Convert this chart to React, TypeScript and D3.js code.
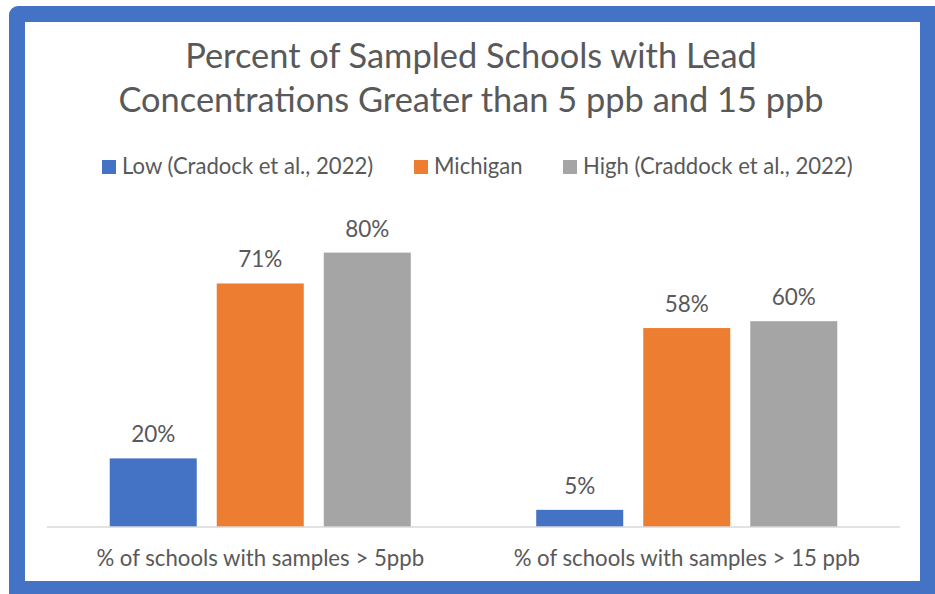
import React from "react";
import * as d3 from "d3";

const titleLines = ["Percent of Sampled Schools with Lead", "Concentrations Greater than 5 ppb and 15 ppb"];
const categories = ["% of schools with samples > 5ppb", "% of schools with samples > 15 ppb"];
const seriesNames = ["Low (Cradock et al., 2022)", "Michigan", "High (Craddock et al., 2022)"];
const lowValues = [0.2, 0.05];
const michiganValues = [0.71, 0.58];
const highValues = [0.8, 0.6];
const seriesColors = ["#4472C4", "#ED7D31", "#A5A5A5"];

const W = 935;
const H = 594;
const FONT = "Lato, 'Open Sans', sans-serif";
const TEXT = "#595959";

export default function App() {
  const seriesValues = [lowValues, michiganValues, highValues];
  const x0 = d3.scaleBand<string>().domain(categories).range([47, 900]).paddingInner(0).paddingOuter(0);
  const x1 = d3
    .scaleBand<string>()
    .domain(seriesNames)
    .range([0, x0.bandwidth()])
    .paddingInner(0.187)
    .paddingOuter(0.586);
  const y = d3.scaleLinear().domain([0, 1]).range([527, 184]);
  const fmt = d3.format(".0%");

  const legendX = [102, 414, 563];

  return (
    <svg width={W} height={H} style={{ position: "absolute", left: 0, top: 0, background: "#fff" }}>
      <rect x={9} y={6} width={960} height={620} rx={9} fill="#4472C4" />
      <rect x={25} y={22} width={895} height={559} fill="#fff" />
      {titleLines.map((t, i) => (
        <text key={i} x={471} y={68 + i * 44} textAnchor="middle" fontFamily={FONT} fontSize={34.4} fill={TEXT}>
          {t}
        </text>
      ))}
      {seriesNames.map((s, i) => (
        <g key={s}>
          <rect x={legendX[i]} y={160} width={14} height={14} fill={seriesColors[i]} />
          <text x={legendX[i] + 20} y={174} fontFamily={FONT} fontSize={22.1} fill={TEXT}>
            {s}
          </text>
        </g>
      ))}
      {categories.map((c, ci) => (
        <g key={c} transform={`translate(${x0(c)},0)`}>
          {seriesNames.map((s, si) => {
            const v = seriesValues[si][ci];
            const bx = x1(s)!;
            return (
              <g key={s}>
                <rect x={bx} y={y(v)} width={x1.bandwidth()} height={y(0) - y(v)} fill={seriesColors[si]} />
                <text
                  x={bx + x1.bandwidth() / 2}
                  y={y(v) - 16}
                  textAnchor="middle"
                  fontFamily={FONT}
                  fontSize={22.5}
                  fill={TEXT}
                >
                  {fmt(v)}
                </text>
              </g>
            );
          })}
          <text x={x0.bandwidth() / 2} y={566} textAnchor="middle" fontFamily={FONT} fontSize={22.2} fill={TEXT}>
            {c}
          </text>
        </g>
      ))}
      <line x1={47} x2={900} y1={y(0)} y2={y(0)} stroke="#D9D9D9" strokeWidth={1.5} />
    </svg>
  );
}
